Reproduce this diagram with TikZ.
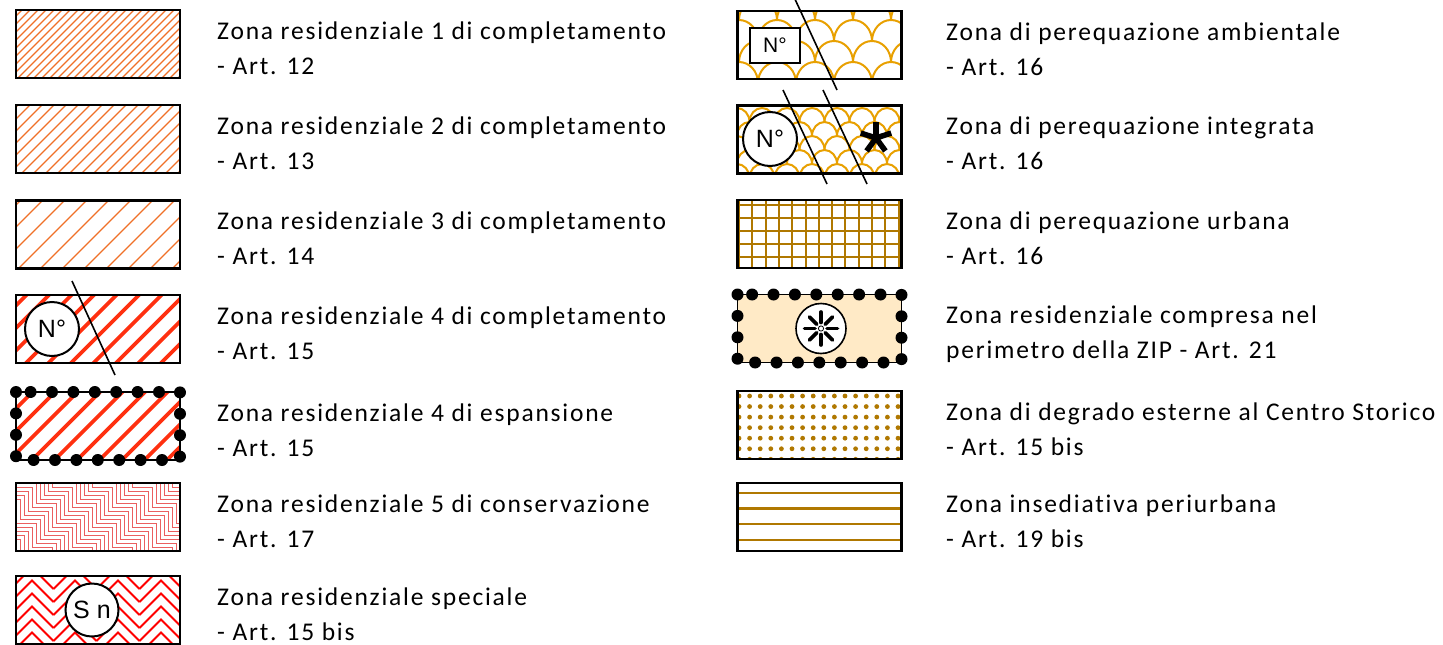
\documentclass[tikz,border=0pt]{standalone}
\usepackage{fontspec}
\setmainfont[LetterSpace=7,Ligatures=NoCommon]{Carlito}
\newfontfamily\arialf{Liberation Sans}
\usetikzlibrary{calc}
\definecolor{hatchor}{RGB}{240,112,40}
\definecolor{hatchred}{RGB}{255,48,16}
\definecolor{stairpink}{RGB}{235,95,95}
\definecolor{chevred}{RGB}{255,0,0}
\definecolor{scalegold}{RGB}{232,160,0}
\definecolor{ochre}{RGB}{176,120,0}
\definecolor{peach}{RGB}{255,234,198}
\begin{document}
\begin{tikzpicture}[x=1pt,y=-1pt,
  swatch/.style={minimum width=164pt,minimum height=68pt,inner sep=0pt,outer sep=0pt,fill=white},
  frame/.style={draw=black,line width=2.4pt},
  lbl/.style={anchor=base west,align=left,inner sep=0pt,font=\fontsize{25.5pt}{35pt}\selectfont},
  badge/.style={circle,draw=black,line width=2pt,fill=white,minimum size=54pt,inner sep=0pt,font=\arialf\fontsize{25pt}{25pt}\selectfont},
  diag/.style={draw=black,line width=1.6pt},
  dotrim/.style={draw=black,line width=12pt,dash pattern=on 0pt off 21.4pt,line cap=round},
]
\useasboundingbox (0,0) rectangle (1443,645);

% ---------- swatch nodes ----------
\node[swatch] (L1) at (98,44) {};
\node[swatch] (L2) at (98,139) {};
\node[swatch] (L3) at (98,234.5) {};
\node[swatch] (L4) at (98,329) {};
\node[swatch] (L5) at (98,426) {};
\node[swatch] (L6) at (98,517) {};
\node[swatch] (L7) at (98,610) {};
\node[swatch] (R1) at (819.5,45) {};
\node[swatch] (R2) at (819.5,139.5) {};
\node[swatch] (R3) at (819.5,234) {};
\node[swatch,fill=peach] (R4) at (819.5,328.5) {};
\node[swatch] (R5) at (819.5,425) {};
\node[swatch] (R6) at (819.5,517) {};

% ---------- patterns ----------
\begin{scope}
  \clip (L1.north west) rectangle (L1.south east);
  \foreach \k in {0,...,31} \draw[hatchor,line width=1.3pt] ({-64+\k*8},80) -- ++(90,-90);
\end{scope}
\begin{scope}
  \clip (L2.north west) rectangle (L2.south east);
  \foreach \k in {0,...,21} \draw[hatchor,line width=1.2pt] ({-64+\k*12},175) -- ++(90,-90);
\end{scope}
\begin{scope}
  \clip (L3.north west) rectangle (L3.south east);
  \foreach \k in {0,...,12} \draw[hatchor,line width=1.2pt] ({-71+\k*22},270) -- ++(90,-90);
\end{scope}
\begin{scope}
  \clip (L4.north west) rectangle (L4.south east);
  \foreach \k in {0,...,12} \draw[hatchred,line width=3.6pt] ({-66+\k*22.5},365) -- ++(90,-90);
\end{scope}
\begin{scope}
  \clip (L5.north west) rectangle (L5.south east);
  \foreach \k in {0,...,12} \draw[hatchred,line width=3.6pt] ({-60+\k*22.5},462) -- ++(90,-90);
\end{scope}
\begin{scope}
  \clip (L6.north west) rectangle (L6.south east);
  \foreach \k in {-11,...,21}
    \draw[stairpink,line width=0.8pt] ({16-80+\k*4},{483-80-\k*4})
      \foreach \m in {1,...,14} { -- ++(20,0) -- ++(0,20) };
\end{scope}
\begin{scope}
  \clip (L7.north west) rectangle (L7.south east);
  \foreach \j in {-2,...,7}
    \foreach \i in {0,...,5}
      \draw[chevred,line width=1.9pt,line join=miter] ({-32.5+\i*43},{576+\j*13}) -- ++(21.5,-21.5) -- ++(21.5,21.5);
\end{scope}
\begin{scope}
  \clip (R1.north west) rectangle (R1.south east);
  \foreach \j in {1,...,4}
    \foreach \i in {0,...,7}
      \draw[scalegold,line width=2pt] ({682+19*mod(\j,2)+\i*38},{-1+21*\j}) arc[start angle=180,end angle=360,x radius=19,y radius=21];
\end{scope}
\begin{scope}
  \clip (R2.north west) rectangle (R2.south east);
  \foreach \j in {0,...,6}
    \foreach \i in {0,...,8}
      \draw[scalegold,line width=2pt] ({712+12.5*mod(\j,2)+\i*25},{108+14*\j}) arc[start angle=180,end angle=360,x radius=12.5,y radius=14];
\end{scope}
\begin{scope}
  \clip (R3.north west) rectangle (R3.south east);
  \foreach \i in {0,...,12} \draw[ochre,line width=2pt] ({739+\i*13.3},199) -- ++(0,70);
  \foreach \j in {0,...,4} \draw[ochre,line width=2pt] (737,{205+\j*12.9}) -- ++(165,0);
\end{scope}
\begin{scope}
  \clip (R5.north west) rectangle (R5.south east);
  \foreach \i in {0,...,15}
    \foreach \j in {0,...,6}
      \fill[ochre] ({739+\i*10.6},{396+\j*10.55}) circle (2.4);
\end{scope}
\foreach \yy in {493,508.5,524,540} \draw[ochre,line width=2.2pt] (R6.west |- 0,\yy) -- (R6.east |- 0,\yy);

% ---------- frames ----------
\foreach \n in {L1,L2,L3,L4,L6,L7,R1,R2,R3,R5,R6}
  \draw[frame] (\n.north west) rectangle (\n.south east);
\foreach \n in {L5,R4} {
  \draw[draw=black,line width=1.8pt] (\n.north west) rectangle (\n.south east);
  \draw[dotrim] (\n.north west) rectangle (\n.south east);
}

% ---------- badges ----------
\node[badge] (N1) at (52,329) {N°};
\node[badge] (N2) at (770,139) {N°};
\node[badge,minimum size=53pt] (S1) at (92,610) {S n};
\node[draw=black,line width=2pt,fill=white,minimum width=50pt,minimum height=35pt,inner sep=0pt,
      font=\arialf\fontsize{21pt}{21pt}\selectfont] (N3) at (775,45.5) {N°};
\node[circle,draw=black,line width=1.6pt,fill=white,minimum size=50pt,inner sep=0pt] (Z) at (821,328.5) {};
\foreach \a in {0,45,...,315}
  \draw[line width=3.6pt,line cap=round] ($(Z)+(\a:6)$) -- ($(Z)+(\a:16.5)$);
\fill[white] (Z) circle (2.6);
\draw[line width=0.8pt] (Z) circle (2.6);
\coordinate (ast) at (876,138);
\foreach \a in {90,162,234,306,18}
  \draw[line width=5.5pt] (ast) -- ++({16*cos(\a)},{-16*sin(\a)});

% ---------- diagonal strokes ----------
\coordinate (d1a) at (72,281);  \coordinate (d1b) at (115,375);
\coordinate (d2a) at (794,-3);  \coordinate (d2b) at (837,90);
\coordinate (d3a) at (783,90);  \coordinate (d3b) at (827,184);
\coordinate (d4a) at (823,90);  \coordinate (d4b) at (867,184);
\draw[diag] (d1a) -- (d1b);
\draw[diag] (d2a) -- (d2b);
\draw[diag] (d3a) -- (d3b);
\draw[diag] (d4a) -- (d4b);

% ---------- labels (base anchor = last line) ----------
\node[lbl] (t1) at (217,74) {Zona residenziale 1 di completamento\\- Art. 12};
\node[lbl] (t2) at (217,169) {Zona residenziale 2 di completamento\\- Art. 13};
\node[lbl] (t3) at (217,264.5) {Zona residenziale 3 di completamento\\- Art. 14};
\node[lbl] (t4) at (217,359) {Zona residenziale 4 di completamento\\- Art. 15};
\node[lbl] (t5) at (217,456) {Zona residenziale 4 di espansione\\- Art. 15};
\node[lbl] (t6) at (217,547) {Zona residenziale 5 di conservazione\\- Art. 17};
\node[lbl] (t7) at (217,640) {Zona residenziale speciale\\- Art. 15 bis};
\node[lbl] (u1) at (946,75) {Zona di perequazione ambientale\\- Art. 16};
\node[lbl] (u2) at (946,169.5) {Zona di perequazione integrata\\- Art. 16};
\node[lbl] (u3) at (946,264) {Zona di perequazione urbana\\- Art. 16};
\node[lbl] (u4) at (946,358.5) {Zona residenziale compresa nel\\perimetro della ZIP - Art. 21};
\node[lbl] (u5) at (946,455) {Zona di degrado esterne al Centro Storico\\- Art. 15 bis};
\node[lbl] (u6) at (946,547) {Zona insediativa periurbana\\- Art. 19 bis};
\end{tikzpicture}
\end{document}
